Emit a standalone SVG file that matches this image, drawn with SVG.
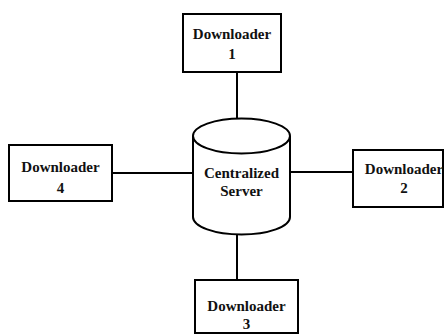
<svg xmlns="http://www.w3.org/2000/svg" width="446" height="336" viewBox="0 0 446 336">
  <style>
    .box { fill: #ffffff; stroke: #000000; stroke-width: 2; }
    .db { fill: #ffffff; stroke: #000000; stroke-width: 2; }
    .link { stroke: #000000; stroke-width: 2; fill: none; }
    .lbl { font-family: "Liberation Serif", "Times New Roman", serif; font-weight: bold; font-size: 15px; fill: #111111; text-anchor: middle; }
  </style>
  <rect width="446" height="336" fill="#ffffff"/>

  <g id="connectors">
    <line class="link" x1="237" y1="72" x2="237" y2="118"/>
    <line class="link" x1="112" y1="173" x2="193" y2="173"/>
    <line class="link" x1="290" y1="172" x2="353" y2="172"/>
    <line class="link" x1="237" y1="234" x2="237" y2="280"/>
  </g>

  <g id="server">
    <path class="db" d="M193,136 L193,217 A48.5,17.5 0 0 0 290,217 L290,136"/>
    <ellipse class="db" cx="241.5" cy="136" rx="48.5" ry="17.5"/>
    <text class="lbl" x="241.5" y="178">Centralized</text>
    <text class="lbl" x="241.5" y="196">Server</text>
  </g>

  <g id="downloader-1">
    <rect class="box" x="183" y="14" width="98" height="58"/>
    <text class="lbl" x="232" y="39">Downloader</text>
    <text class="lbl" x="232" y="59">1</text>
  </g>

  <g id="downloader-2">
    <rect class="box" x="353" y="150" width="90" height="57"/>
    <text class="lbl" x="404" y="174">Downloader</text>
    <text class="lbl" x="404" y="193">2</text>
  </g>

  <g id="downloader-3">
    <rect class="box" x="195" y="280" width="103" height="53"/>
    <text class="lbl" x="246.5" y="311">Downloader</text>
    <text class="lbl" x="246.5" y="329">3</text>
  </g>

  <g id="downloader-4">
    <rect class="box" x="9" y="145" width="103" height="56"/>
    <text class="lbl" x="60.5" y="172">Downloader</text>
    <text class="lbl" x="60.5" y="193">4</text>
  </g>
</svg>
